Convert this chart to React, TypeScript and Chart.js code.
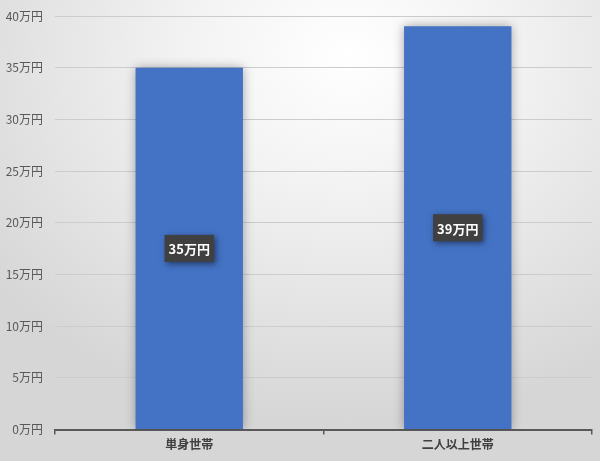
import React, { useRef, useEffect } from "react";
import Chart from "chart.js/auto";

const categories = ["単身世帯", "二人以上世帯"];
const amounts = [35, 39];
const yTicks = [0, 5, 10, 15, 20, 25, 30, 35, 40];

const FONT = "'Noto Sans CJK JP', 'Noto Sans', sans-serif";

const barShadow = {
  id: "barShadow",
  beforeDatasetsDraw(chart: any) {
    const ctx = chart.ctx;
    ctx.save();
    ctx.shadowColor = "rgba(0,0,0,0.35)";
    ctx.shadowBlur = 10;
    ctx.shadowOffsetX = 0;
    ctx.shadowOffsetY = 0;
  },
  afterDatasetsDraw(chart: any) {
    chart.ctx.restore();
  },
};

const boxLabels = {
  id: "boxLabels",
  afterDatasetsDraw(chart: any) {
    const ctx = chart.ctx;
    const meta = chart.getDatasetMeta(0);
    ctx.save();
    ctx.font = `bold 13px ${FONT}`;
    meta.data.forEach((bar: any, i: number) => {
      const text = `${amounts[i]}万円`;
      const w = ctx.measureText(text).width + 8;
      const h = 27;
      const cx = bar.x;
      const cy = (bar.y + bar.base) / 2;
      ctx.shadowColor = "rgba(0,0,0,0.5)";
      ctx.shadowBlur = 6;
      ctx.shadowOffsetX = 2;
      ctx.shadowOffsetY = 2;
      ctx.fillStyle = "#404040";
      ctx.fillRect(cx - w / 2, cy - h / 2, w, h);
      ctx.shadowColor = "transparent";
      ctx.fillStyle = "#ffffff";
      ctx.textAlign = "center";
      ctx.textBaseline = "middle";
      ctx.fillText(text, cx, cy + 1);
    });
    ctx.restore();
  },
};

const App = () => {
  const chartRef = useRef<HTMLCanvasElement | null>(null);
  const chartInstanceRef = useRef<Chart | null>(null);

  useEffect(() => {
    const ctx = chartRef.current?.getContext("2d");
    if (chartInstanceRef.current) {
      chartInstanceRef.current.destroy();
    }
    if (ctx) {
      chartInstanceRef.current = new Chart(ctx, {
        type: "bar",
        data: {
          labels: categories,
          datasets: [
            {
              data: amounts,
              backgroundColor: "#4472C4",
              borderWidth: 0,
              categoryPercentage: 0.8,
              barPercentage: 0.5,
            },
          ],
        },
        options: {
          responsive: false,
          animation: false,
          layout: { padding: { top: 16, right: 8, bottom: 6, left: 0 } },
          plugins: {
            legend: { display: false },
            tooltip: { enabled: false },
          },
          scales: {
            x: {
              grid: {
                drawOnChartArea: false,
                drawTicks: true,
                tickLength: 5,
                color: "#595959",
                lineWidth: 1.5,
              },
              border: { color: "#595959", width: 2 },
              ticks: {
                color: "#404040",
                padding: 3,
                font: { family: FONT, size: 12, weight: "bold" },
              },
            },
            y: {
              min: 0,
              max: 40,
              afterFit(scale: any) {
                scale.width = 55;
                scale.paddingTop = 0;
                scale.paddingBottom = 0;
              },
              afterBuildTicks(scale: any) {
                scale.ticks = yTicks.map((v) => ({ value: v }));
              },
              grid: {
                color: "#cccccc",
                drawTicks: false,
              },
              border: { display: false },
              ticks: {
                color: "#595959",
                padding: 12,
                font: { family: FONT, size: 12 },
                callback: (v: any) => `${v}万円`,
              },
            },
          },
        },
        plugins: [barShadow, boxLabels],
      });
    }
    return () => {
      if (chartInstanceRef.current) {
        chartInstanceRef.current.destroy();
      }
    };
  }, []);

  return (
    <div
      style={{
        position: "absolute",
        left: 0,
        top: 0,
        width: 600,
        height: 461,
        background:
          "radial-gradient(ellipse 75% 80% at 58% 12%, #ffffff 0%, #f3f3f3 35%, #d6d6d6 100%)",
      }}
    >
      <canvas ref={chartRef} width={600} height={461}></canvas>
    </div>
  );
};

export default App;
